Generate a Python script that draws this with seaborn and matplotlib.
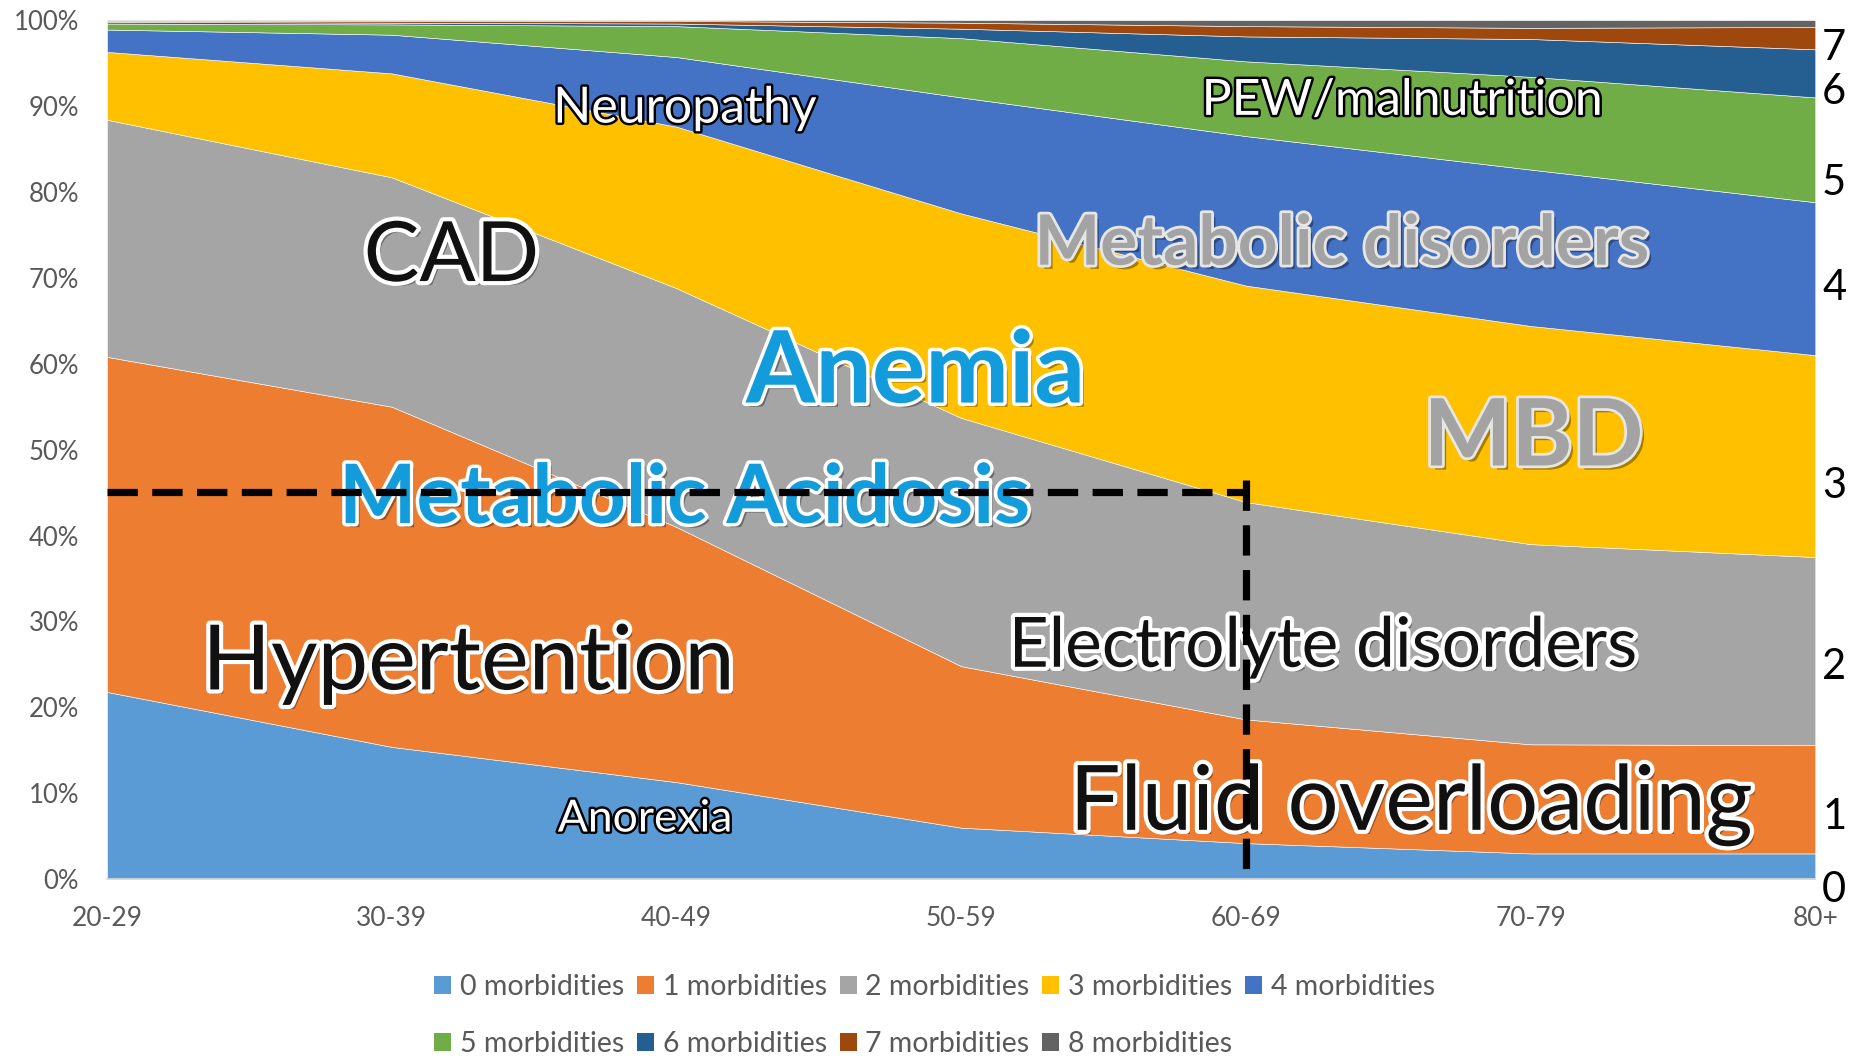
import numpy as np
import matplotlib
matplotlib.use("Agg")
import matplotlib.pyplot as plt
import matplotlib.patheffects as pe
from matplotlib.patches import Patch
import seaborn as sns

# ---------------- data (percent of patients per age group) ----------------
age_groups = ["20-29", "30-39", "40-49", "50-59", "60-69", "70-79", "80+"]
labels = [f"{i} morbidities" for i in range(9)]

morb_0 = [21.8, 15.4, 11.3, 6.0, 4.2, 3.0, 3.0]
morb_1 = [39.0, 39.6, 29.7, 18.8, 14.4, 12.7, 12.6]
morb_2 = [27.6, 26.7, 27.8, 28.9, 25.3, 23.3, 21.9]
morb_3 = [7.9, 12.1, 18.8, 23.8, 25.2, 25.4, 23.5]
morb_4 = [2.6, 4.5, 8.1, 13.5, 17.4, 18.2, 17.8]
morb_5 = [0.7, 1.2, 3.6, 6.9, 8.7, 10.8, 12.2]
morb_6 = [0.2, 0.2, 0.3, 1.1, 2.9, 4.4, 5.6]
morb_7 = [0.1, 0.2, 0.3, 0.7, 1.2, 1.3, 2.6]
morb_8 = [0.1, 0.1, 0.1, 0.3, 0.7, 0.9, 0.8]

y_ticks = [0, 10, 20, 30, 40, 50, 60, 70, 80, 90, 100]
y_tick_labels = [f"{v}%" for v in y_ticks]

# reference guide (dashed lines)
ref_level = 45.1
ref_group = "60-69"

# ---------------- style ----------------
sns.set_theme(style="white")
plt.rcParams["font.family"] = ["Lato", "DejaVu Sans"]

colors = ["#5B9BD5", "#ED7D31", "#A5A5A5", "#FFC000", "#4472C4",
          "#70AD47", "#255E91", "#9E480E", "#636363"]

series = np.array([morb_0, morb_1, morb_2, morb_3, morb_4,
                   morb_5, morb_6, morb_7, morb_8], dtype=float)
series = series / series.sum(axis=0) * 100.0

fig = plt.figure(figsize=(18.58, 10.58), dpi=100)
ax = fig.add_axes([0.0576, 0.169, 0.9194, 0.812])

x = np.arange(len(age_groups))
ax.stackplot(x, *series, colors=colors, labels=labels,
             edgecolor="white", linewidth=0.4)

ax.set_xlim(0, len(age_groups) - 1)
ax.set_ylim(0, 100)
ax.set_xticks(x, age_groups)
ax.set_yticks(y_ticks, y_tick_labels)
sns.despine(ax=ax, left=True, top=True, right=True)
ax.spines["bottom"].set_color("#D9D9D9")
ax.spines["bottom"].set_linewidth(1.2)
ax.tick_params(axis="x", length=9, width=1.2, color="#D9D9D9",
               direction="out", pad=10, labelsize=19, labelcolor="#595959")
ax.tick_params(axis="y", length=0, pad=20, labelsize=18.5, labelcolor="#595959")
ax.grid(False)

# ---------------- annotations ----------------
shadow = pe.SimplePatchShadow(offset=(3, -3), shadow_rgbFace="black", alpha=0.35)


def annot(text, xi, yv, size, style, weight="normal"):
    if style == "black":
        fc, effects = "#111111", [shadow, pe.Stroke(linewidth=6, foreground="white"), pe.Normal()]
    elif style == "white":
        fc, effects = "white", [pe.Stroke(linewidth=3.5, foreground="black"), pe.Normal()]
    elif style == "blue":
        fc, effects = "#139CDC", [shadow, pe.Stroke(linewidth=5, foreground="white"), pe.Normal()]
    else:  # gray
        fc, effects = "#A3A3A3", [shadow, pe.Stroke(linewidth=4, foreground="#E6E6E6"), pe.Normal()]
    t = ax.text(xi, yv, text, ha="center", va="center", fontsize=size,
                color=fc, fontweight=weight, zorder=5)
    t.set_path_effects(effects)
    return t


annot("Neuropathy", 2.03, 89.7, 36, "white")
annot("PEW/malnutrition", 4.55, 90.6, 36, "white")
annot("CAD", 1.21, 72.3, 60, "black")
annot("Anemia", 2.84, 58.8, 72, "blue", "bold")
annot("Metabolic disorders", 4.34, 73.8, 50, "gray", "bold")
annot("MBD", 5.01, 51.3, 67, "gray", "bold")
annot("Metabolic Acidosis", 2.03, 44.2, 59, "blue", "bold")
annot("Hypertention", 1.27, 25.0, 65, "black")
annot("Electrolyte disorders", 4.27, 27.0, 50, "black")
annot("Fluid overloading", 4.58, 8.6, 65, "black")
annot("Anorexia", 1.89, 7.0, 32, "white")

# dashed reference lines
gx = age_groups.index(ref_group)
dash_kw = dict(color="black", linewidth=5.2, dashes=(4.2, 2.0), zorder=6,
               solid_capstyle="butt", dash_capstyle="butt")
ax.plot([0, gx], [ref_level, ref_level], **dash_kw)
ax.plot([gx, gx], [ref_level + 1.4, 0.7], **dash_kw)

# right-side count labels
right_labels = ["0", "1", "2", "3", "4", "5", "6", "7"]
right_label_pos = [-1.2, 7.2, 24.7, 45.8, 68.8, 81.0, 91.6, 96.8]
for lab, yp in zip(right_labels, right_label_pos):
    ax.text(1.004, yp, lab, transform=ax.get_yaxis_transform(),
            ha="left", va="center", fontsize=30, color="black", clip_on=False)

# ---------------- legend ----------------
handles = [Patch(facecolor=c, edgecolor="none") for c in colors]
order = [0, 5, 1, 6, 2, 7, 3, 8, 4]
fig.legend([handles[i] for i in order], [labels[i] for i in order],
           loc="center", bbox_to_anchor=(0.503, 0.040), ncol=5, frameon=False,
           fontsize=20.5, labelcolor="#595959", handlelength=0.6,
           handleheight=0.6, handletextpad=0.3, columnspacing=0.45,
           labelspacing=1.1)

fig.savefig("out.png", dpi=100)
